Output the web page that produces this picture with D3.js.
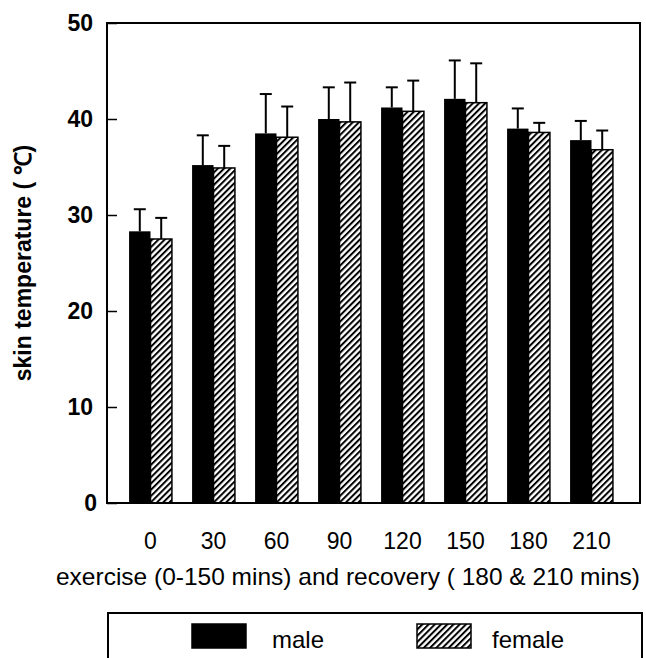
<!DOCTYPE html>
<html lang="en">
<head>
<meta charset="UTF-8" />
<title>Skin temperature during exercise and recovery</title>
<script src="https://cdnjs.cloudflare.com/ajax/libs/d3/7.8.5/d3.min.js"></script>
<style>
  * { margin: 0; padding: 0; }
  body { background: #fff; }
  svg { display: block; }
</style>
</head>
<body>
<svg id="chart" width="646" height="658"></svg>
<script>
  // -------- data --------
  const categories = ["0", "30", "60", "90", "120", "150", "180", "210"];
  const groups = ["male", "female"];
  const maleMean = [28.3, 35.2, 38.5, 40.0, 41.2, 42.1, 39.0, 37.8];
  const femaleMean = [27.5, 34.9, 38.1, 39.7, 40.8, 41.7, 38.6, 36.8];
  const maleErr = [2.3, 3.1, 4.1, 3.3, 2.1, 4.0, 2.1, 2.0];
  const femaleErr = [2.2, 2.3, 3.2, 4.1, 3.2, 4.1, 1.0, 2.0];
  const yTicks = [0, 10, 20, 30, 40, 50];

  const rows = categories.map((c, i) => ({
    cat: c,
    values: [
      { key: "male", mean: maleMean[i], err: maleErr[i] },
      { key: "female", mean: femaleMean[i], err: femaleErr[i] }
    ]
  }));

  const svg = d3.select("#chart");
  const pL = 107, pR = 640, pT = 23, pB = 503;
  const font = "'Liberation Sans', Arial, sans-serif";

  // hatch for female bars
  const defs = svg.append("defs");
  defs.append("pattern")
    .attr("id", "hatch")
    .attr("patternUnits", "userSpaceOnUse")
    .attr("width", 4.4).attr("height", 4.4)
    .attr("patternTransform", "rotate(45)")
    .call(p => p.append("rect").attr("width", 4.4).attr("height", 4.4).attr("fill", "#fff"))
    .call(p => p.append("rect").attr("width", 2).attr("height", 4.4).attr("fill", "#000"));

  const x0 = d3.scaleBand().domain(categories).range([119, 623])
    .paddingInner(0.32).paddingOuter(0.16);
  const x1 = d3.scaleBand().domain(groups).range([0, x0.bandwidth()]);
  const y = d3.scaleLinear().domain([0, 50]).range([pB, pT]);

  // bars
  const g = svg.append("g").selectAll("g")
    .data(rows).enter().append("g")
    .attr("transform", d => `translate(${x0(d.cat)},0)`);

  g.selectAll("rect")
    .data(d => d.values).enter().append("rect")
    .attr("x", d => x1(d.key))
    .attr("y", d => y(d.mean))
    .attr("width", x1.bandwidth())
    .attr("height", d => y(0) - y(d.mean))
    .attr("fill", d => d.key === "male" ? "#000" : "url(#hatch)")
    .attr("stroke", "#000")
    .attr("stroke-width", d => d.key === "male" ? 0 : 1.5);

  // error bars (upper only)
  const eb = g.selectAll("g.err")
    .data(d => d.values).enter().append("g").attr("class", "err")
    .attr("stroke", "#000").attr("stroke-width", 2);
  eb.append("line")
    .attr("x1", d => x1(d.key) + x1.bandwidth() / 2)
    .attr("x2", d => x1(d.key) + x1.bandwidth() / 2)
    .attr("y1", d => y(d.mean))
    .attr("y2", d => y(d.mean + d.err));
  eb.append("line")
    .attr("x1", d => x1(d.key) + x1.bandwidth() / 2 - 6)
    .attr("x2", d => x1(d.key) + x1.bandwidth() / 2 + 6)
    .attr("y1", d => y(d.mean + d.err))
    .attr("y2", d => y(d.mean + d.err));

  // frame
  svg.append("rect")
    .attr("x", pL).attr("y", pT)
    .attr("width", pR - pL).attr("height", pB - pT)
    .attr("fill", "none").attr("stroke", "#000").attr("stroke-width", 2);

  // y axis, ticks pointing inward
  const yAxis = svg.append("g")
    .attr("transform", `translate(${pL},0)`)
    .call(d3.axisLeft(y).tickValues(yTicks).tickSize(-10).tickPadding(14));
  yAxis.select(".domain").remove();
  yAxis.selectAll("line").attr("stroke-width", 1.5);
  yAxis.selectAll("text")
    .attr("font-family", font)
    .attr("font-size", 23).attr("font-weight", "bold").attr("fill", "#000")
    .attr("dx", d => d === 0 ? 4 : 0);

  // x axis labels
  const xAxis = svg.append("g")
    .attr("transform", `translate(0,${pB})`)
    .call(d3.axisBottom(x0).tickSize(0).tickPadding(30));
  xAxis.select(".domain").remove();
  xAxis.selectAll("text")
    .attr("font-family", font)
    .attr("font-size", 23).attr("fill", "#000");

  // axis titles
  svg.append("text")
    .attr("x", 56).attr("y", 585)
    .attr("textLength", 584).attr("lengthAdjust", "spacingAndGlyphs")
    .attr("font-family", font)
    .attr("font-size", 24)
    .text("exercise (0-150 mins) and recovery ( 180 & 210 mins)");

  svg.append("text")
    .attr("transform", `translate(31,${(pT + pB) / 2}) rotate(-90)`)
    .attr("text-anchor", "middle")
    .attr("font-family", font)
    .attr("font-size", 23).attr("font-weight", "bold")
    .text("skin temperature ( \u2103)");

  // legend
  const leg = svg.append("g");
  leg.append("rect")
    .attr("x", 108).attr("y", 613).attr("width", 534).attr("height", 70)
    .attr("fill", "none").attr("stroke", "#000").attr("stroke-width", 2);
  const legItems = [
    { key: "male", sx: 192, tx: 272, fill: "#000" },
    { key: "female", sx: 417, tx: 492, fill: "url(#hatch)" }
  ];
  legItems.forEach(it => {
    leg.append("rect")
      .attr("x", it.sx).attr("y", 624).attr("width", 54).attr("height", 24)
      .attr("fill", it.fill).attr("stroke", "#000").attr("stroke-width", 1.5);
    leg.append("text")
      .attr("x", it.tx).attr("y", 648)
      .attr("font-family", font)
      .attr("font-size", 24)
      .text(it.key);
  });
</script>
</body>
</html>
